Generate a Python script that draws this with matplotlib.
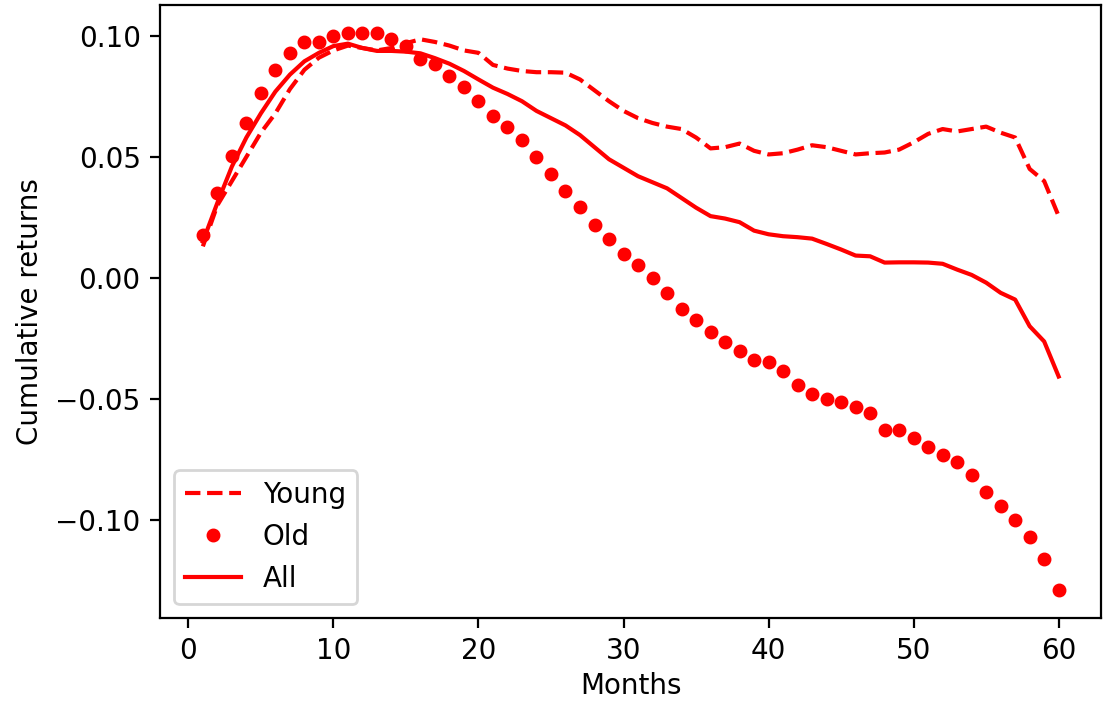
import matplotlib
matplotlib.use("Agg")
import matplotlib.pyplot as plt
import numpy as np

months = np.arange(1, 61)

young = [0.013, 0.030, 0.040, 0.050, 0.060, 0.068, 0.078, 0.086, 0.091, 0.094,
         0.096, 0.095, 0.094, 0.095, 0.097, 0.0986, 0.0975, 0.096, 0.094, 0.093,
         0.088, 0.0865, 0.0855, 0.085, 0.085, 0.0848, 0.082, 0.0775, 0.073, 0.069,
         0.066, 0.064, 0.0625, 0.0615, 0.058, 0.0535, 0.054, 0.0555, 0.0525, 0.051,
         0.0515, 0.053, 0.0548, 0.054, 0.0525, 0.051, 0.0515, 0.0518, 0.053, 0.056,
         0.0595, 0.0615, 0.0605, 0.0615, 0.0625, 0.060, 0.058, 0.045, 0.040, 0.0255]

old = [0.0175, 0.0349, 0.0503, 0.0638, 0.0765, 0.0859, 0.0931, 0.0975, 0.0975, 0.1000,
       0.1011, 0.1011, 0.1011, 0.0988, 0.0958, 0.0906, 0.0884, 0.0834, 0.0787, 0.0731,
       0.0670, 0.0625, 0.0568, 0.0499, 0.0430, 0.0358, 0.0291, 0.0217, 0.0161, 0.0100,
       0.0055, 0.0000, -0.0063, -0.0129, -0.0175, -0.0224, -0.0267, -0.0304, -0.0339, -0.0350,
       -0.0384, -0.0445, -0.0479, -0.0501, -0.0514, -0.0536, -0.0559, -0.0628, -0.0628, -0.0663,
       -0.0698, -0.0732, -0.0760, -0.0815, -0.0886, -0.0943, -0.1001, -0.1073, -0.1164, -0.1291]

all_ = [0.015, 0.031, 0.046, 0.058, 0.068, 0.077, 0.084, 0.0895, 0.093, 0.0958,
        0.0968, 0.095, 0.0938, 0.0938, 0.0935, 0.0928, 0.0908, 0.0885, 0.0855, 0.082,
        0.0786, 0.076, 0.073, 0.069, 0.066, 0.063, 0.059, 0.054, 0.049, 0.0455,
        0.042, 0.0395, 0.037, 0.033, 0.029, 0.0255, 0.0245, 0.023, 0.0195, 0.018,
        0.0172, 0.0168, 0.0162, 0.0140, 0.0117, 0.0092, 0.0089, 0.0063, 0.0064, 0.0064,
        0.0063, 0.0058, 0.0034, 0.0012, -0.0020, -0.0062, -0.0090, -0.0200, -0.0263, -0.0408]

fig = plt.figure(figsize=(5.52, 3.51), dpi=200)
ax = fig.add_axes([0.145, 0.1197, 0.8527, 0.8726])

ax.plot(months, young, "r--", label="Young")
ax.plot(months, old, "r.", markersize=8, label="Old")
ax.plot(months, all_, "r-", label="All")

ax.set_xlabel("Months", labelpad=2.5)
ax.set_ylabel("Cumulative returns")
ax.legend(loc="lower left")

fig.savefig("out.png", dpi=200)
